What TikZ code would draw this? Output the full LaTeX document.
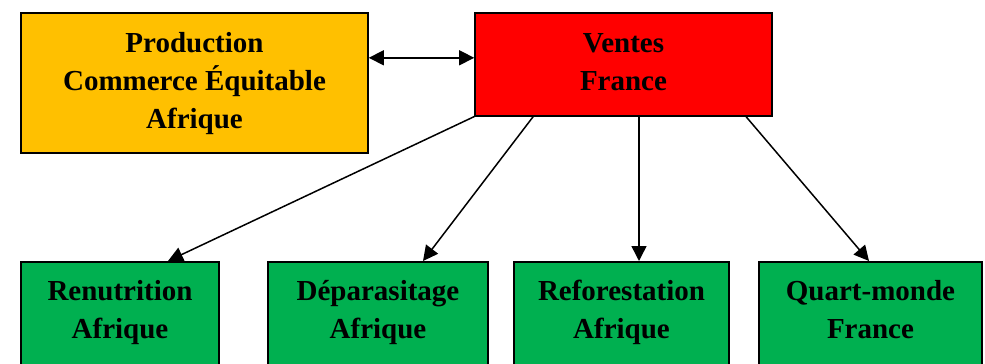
\documentclass[tikz,border=0pt]{standalone}
\usepackage{fontspec}
\setmainfont{Liberation Serif}
\usetikzlibrary{arrows.meta}
\definecolor{prodgold}{HTML}{FFC000}
\definecolor{ventred}{HTML}{FF0000}
\definecolor{projgreen}{HTML}{00B050}
\tikzset{%
	box/.style args={#1 and #2}{draw=black, line width=1.6pt, fill=#1,
		minimum width=#2, inner sep=0pt, align=center, anchor=north,
		font=\fontsize{29}{38}\selectfont\bfseries},
	link/.style={line width=1.5pt, -{Triangle[length=15pt,width=15pt]}}
}
\begin{document}
\begin{tikzpicture}[x=1pt, y=-1pt,
		proj/.style={box=projgreen and #1, text height=77pt, text depth=40pt}]
				\useasboundingbox (0,0) rectangle (985,364);
				\node [box=prodgold and 347pt, text height=116pt, text depth=24pt] (prod) at (194.5,12) {Production\\Commerce Équitable\\Afrique};
				\node [box=ventred and 297pt, text height=78pt, text depth=25pt] (ventes) at (623.5,12) {Ventes\\France};
				\node [proj=198pt] (renut) at (120,261) {Renutrition\\Afrique};
				\node [proj=220pt] (depar) at (378,261) {Déparasitage\\Afrique};
				\node [proj=215pt] (refor) at (621.5,261) {Reforestation\\Afrique};
				\node [proj=223pt] (quart) at (870.5,261) {Quart-monde\\France};
				% liens
				\draw [link, {Triangle[length=15pt,width=15pt]}-{Triangle[length=15pt,width=15pt]}] ([yshift=6.5pt]ventes.west) -- ([yshift=6.5pt]ventes.west -| prod.east);
				\draw [link] (ventes.south west) -- ([xshift=48pt]renut.north);
				\draw [link] ([xshift=59pt]ventes.south west) -- ([xshift=45pt]depar.north);
				\draw [link] ([xshift=15.5pt]ventes.south) -- ([xshift=17.5pt]refor.north);
				\draw [link] ([xshift=122.5pt]ventes.south) -- ([xshift=-1.5pt]quart.north);
			\end{tikzpicture}
\end{document}
